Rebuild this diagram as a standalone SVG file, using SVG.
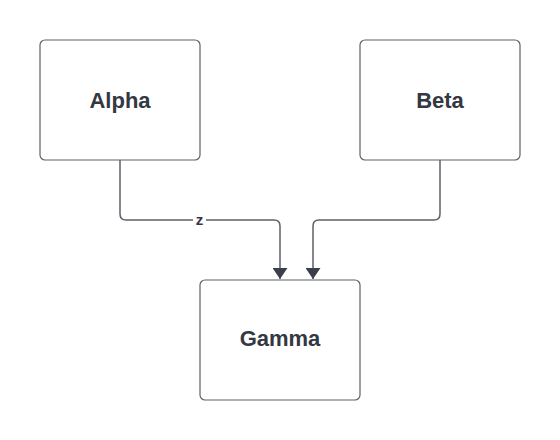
<svg xmlns="http://www.w3.org/2000/svg" width="560" height="440" viewBox="0 0 560 440">
<style>
.node rect{fill:#ffffff;stroke:#5e6068;stroke-width:1.2}
.node text{font-family:"Liberation Sans",Arial,sans-serif;font-weight:bold;font-size:22px;fill:#333842;text-anchor:middle}
.edge{fill:none;stroke:#5e6068;stroke-width:1.5}
.lbl{font-family:"Liberation Sans",Arial,sans-serif;font-weight:bold;font-size:15px;fill:#333842;text-anchor:middle}
</style>
<defs>
<marker id="arr" viewBox="0 0 11 15" refX="11" refY="7.5" markerWidth="11" markerHeight="15" markerUnits="userSpaceOnUse" orient="auto">
<path d="M0,0 L11,7.5 L0,15 Z" fill="#3a3f4a"/>
</marker>
</defs>
<rect width="560" height="440" fill="#ffffff"/>
<g id="connectors">
<path class="edge" d="M120,160 V214 Q120,220 126,220 H274 Q280,220 280,226 V279" marker-end="url(#arr)"/>
<path class="edge" d="M440,160 V214 Q440,220 434,220 H319 Q313,220 313,226 V279" marker-end="url(#arr)"/>
<rect x="193" y="212" width="13" height="16" fill="#ffffff"/>
<text class="lbl" x="199.5" y="225">z</text>
</g>
<g id="alpha" class="node">
<rect x="40" y="40" width="160" height="120" rx="5"/>
<text x="120" y="107.5">Alpha</text>
</g>
<g id="beta" class="node">
<rect x="360" y="40" width="160" height="120" rx="5"/>
<text x="440" y="107.5">Beta</text>
</g>
<g id="gamma" class="node">
<rect x="200" y="280" width="160" height="120" rx="5"/>
<text x="280" y="345.5">Gamma</text>
</g>
</svg>
